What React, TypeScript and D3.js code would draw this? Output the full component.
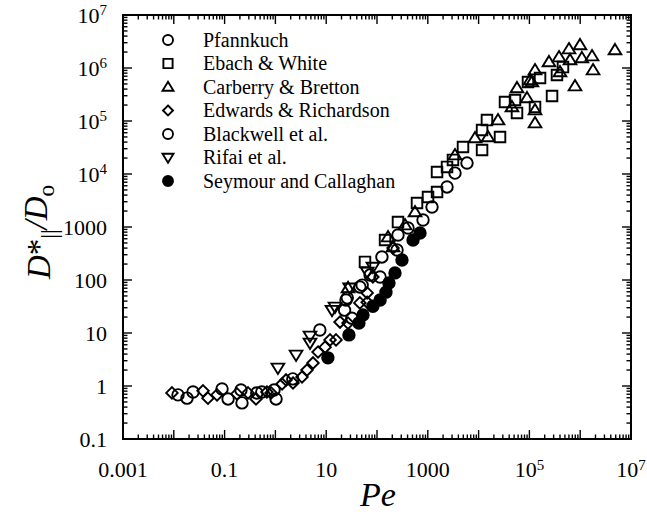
import * as d3 from "d3";
import { useEffect, useRef } from "react";

// axis ticks (labels every second decade on x)
const xMajor = [1e-3, 1e-2, 1e-1, 1, 10, 100, 1e3, 1e4, 1e5, 1e6, 1e7];
const xLabelled = [1e-3, 1e-1, 10, 1e3, 1e5, 1e7];
const xLabels = ["0.001", "0.1", "10", "1000", "10^5", "10^7"];
const yMajor = [0.1, 1, 10, 100, 1e3, 1e4, 1e5, 1e6, 1e7];
const yLabels = ["0.1", "1", "10", "100", "1000", "10^4", "10^5", "10^6", "10^7"];

// data
const pfannkuchPe = [0.0121, 0.0182, 0.0239, 0.089, 0.117, 0.21, 0.22, 0.43, 0.54, 0.94, 1.03, 2.2, 7.5, 23, 24.5, 46, 73, 26, 51];
const pfannkuchD = [0.68, 0.59, 0.77, 0.88, 0.57, 0.84, 0.48, 0.74, 0.77, 0.84, 0.57, 1.36, 11.4, 27, 42, 74, 124, 46, 80];

const ebachPe = [58, 144, 259, 613, 1520, 1520, 2390, 3130, 4930, 11700, 11700, 14600, 26400, 33100, 52100, 57000, 129000, 279000, 93800, 162000, 349000, 458000, 1010];
const ebachD = [219, 569, 1240, 2840, 4570, 10900, 13600, 18400, 32300, 28400, 67600, 104000, 49900, 228000, 249000, 142000, 184000, 296000, 545000, 648000, 738000, 1040000, 3680];

const carberryPe = [26.9, 165, 207, 560, 8500, 15300, 24100, 45400, 57000, 89700, 129000, 129000, 103000, 243000, 383000, 602000, 991000, 1080000, 1710000, 1790000, 790000, 4840000, 630000, 400000, 112000, 129000, 356, 3430];
const carberryD = [71, 647, 420, 1920, 47800, 49900, 104000, 184000, 420000, 272000, 916000, 91600, 594000, 1300000, 1610000, 2280000, 2720000, 1550000, 1680000, 916000, 457000, 2190000, 1420000, 841000, 545000, 161000, 1090, 22800];

const edwardsPe = [0.0092, 0.0376, 0.047, 0.071, 0.175, 0.289, 0.415, 0.82, 1.35, 1.62, 2.22, 3.34, 4.19, 5.5, 6.9, 9.5, 11.9, 15.6, 18.7, 26.9, 46, 64, 64, 83, 207, 0.68];
const edwardsD = [0.74, 0.81, 0.59, 0.68, 0.71, 0.74, 0.57, 0.74, 1.09, 1.3, 1.14, 1.48, 2.0, 2.72, 4.38, 5.4, 7.4, 7.4, 16.1, 15.4, 37, 57, 38, 114, 402, 0.77];

const blackwellPe = [115, 125, 259, 408, 805, 1210, 2390, 3430, 5910, 248, 32];
const blackwellD = [114, 272, 706, 957, 1355, 2380, 5690, 10400, 16100, 368, 19];

const rifaiPe = [1.12, 2.55, 4.8, 4.8, 13, 14.9, 29, 64, 83];
const rifaiD = [2.19, 3.85, 8.8, 6.5, 27, 31, 71, 142, 176];

const seymourPe = [10.8, 28, 44, 53, 83, 115, 150, 172, 226, 310, 512, 702];
const seymourD = [3.4, 9.2, 15.4, 21.9, 32, 42, 59, 88, 136, 238, 569, 771];

type Shape = "circle" | "square" | "triangle" | "diamond" | "triangleDown" | "dot";

const series: { name: string; shape: Shape; pe: number[]; d: number[] }[] = [
    { name: "Pfannkuch", shape: "circle", pe: pfannkuchPe, d: pfannkuchD },
    { name: "Ebach & White", shape: "square", pe: ebachPe, d: ebachD },
    { name: "Carberry & Bretton", shape: "triangle", pe: carberryPe, d: carberryD },
    { name: "Edwards & Richardson", shape: "diamond", pe: edwardsPe, d: edwardsD },
    { name: "Blackwell et al.", shape: "circle", pe: blackwellPe, d: blackwellD },
    { name: "Rifai et al.", shape: "triangleDown", pe: rifaiPe, d: rifaiD },
    { name: "Seymour and Callaghan", shape: "dot", pe: seymourPe, d: seymourD },
];

const FONT = "Liberation Serif";

const markerPath = (shape: Shape, s: number): string => {
    const p = d3.path();
    const h = s / 2;
    if (shape === "circle" || shape === "dot") {
        p.arc(0, 0, h, 0, 2 * Math.PI);
    } else if (shape === "square") {
        p.rect(-h * 0.92, -h * 0.92, s * 0.92, s * 0.92);
    } else if (shape === "triangle") {
        p.moveTo(0, -h * 1.05);
        p.lineTo(h * 1.1, h * 0.75);
        p.lineTo(-h * 1.1, h * 0.75);
        p.closePath();
    } else if (shape === "triangleDown") {
        p.moveTo(0, h * 1.05);
        p.lineTo(h * 1.1, -h * 0.75);
        p.lineTo(-h * 1.1, -h * 0.75);
        p.closePath();
    } else {
        p.moveTo(0, -h);
        p.lineTo(h, 0);
        p.lineTo(0, h);
        p.lineTo(-h, 0);
        p.closePath();
    }
    return p.toString();
};

// puts "10^5" style labels into a text element
const writeLabel = (t: d3.Selection<SVGTextElement, unknown, null, undefined>, label: string) => {
    const parts = label.split("^");
    t.append("tspan").text(parts[0]);
    if (parts[1]) {
        t.append("tspan").attr("dy", "-0.5em").attr("font-size", "0.68em").text(parts[1]);
    }
};

const App = () => {
    const ref = useRef<SVGSVGElement>(null);

    useEffect(() => {
        const width = 647;
        const height = 516;
        const left = 123, right = 631, top = 15, bottom = 439;

        const svg = d3.select(ref.current);
        svg.selectAll("*").remove();

        const x = d3.scaleLog().domain([1e-3, 1e7]).range([left, right]);
        const y = d3.scaleLog().domain([0.1, 1e7]).range([bottom, top]);

        const minors = (majors: number[]) =>
            majors.slice(0, -1).flatMap((m) => d3.range(2, 10).map((k) => k * m));

        const g = svg.append("g").style("font-family", FONT);

        // ticks, inward on all four sides
        const tickG = g.append("g").attr("stroke", "black").attr("stroke-width", 1.4);
        const drawX = (vals: number[], len: number) => {
            vals.forEach((v) => {
                tickG.append("line").attr("x1", x(v)).attr("x2", x(v)).attr("y1", bottom).attr("y2", bottom - len);
                tickG.append("line").attr("x1", x(v)).attr("x2", x(v)).attr("y1", top).attr("y2", top + len);
            });
        };
        const drawY = (vals: number[], len: number) => {
            vals.forEach((v) => {
                tickG.append("line").attr("y1", y(v)).attr("y2", y(v)).attr("x1", left).attr("x2", left + len);
                tickG.append("line").attr("y1", y(v)).attr("y2", y(v)).attr("x1", right).attr("x2", right - len);
            });
        };
        drawX(xMajor, 9);
        drawX(minors(xMajor), 4.5);
        drawY(yMajor, 9);
        drawY(minors(yMajor), 4.5);

        g.append("rect")
            .attr("x", left).attr("y", top)
            .attr("width", right - left).attr("height", bottom - top)
            .attr("fill", "none").attr("stroke", "black").attr("stroke-width", 2);

        // tick labels
        xLabelled.forEach((v, i) => {
            const t = g.append("text")
                .attr("x", x(v)).attr("y", bottom + 38)
                .attr("text-anchor", "middle")
                .attr("font-size", 22);
            writeLabel(t, xLabels[i]);
        });
        yMajor.forEach((v, i) => {
            const t = g.append("text")
                .attr("x", 107).attr("y", y(v) + 7.5)
                .attr("text-anchor", "end")
                .attr("font-size", 22);
            writeLabel(t, yLabels[i]);
        });

        // axis titles
        g.append("text")
            .attr("x", 378).attr("y", 506)
            .attr("text-anchor", "middle")
            .attr("font-size", 34).attr("font-style", "italic")
            .text("Pe");

        const yt = g.append("text")
            .attr("transform", "translate(50," + 232 + ") rotate(-90)")
            .attr("text-anchor", "middle")
            .attr("font-size", 33);
        yt.append("tspan").attr("font-style", "italic").text("D");
        yt.append("tspan").text("*");
        yt.append("tspan").attr("dy", "0.3em").attr("font-size", "0.7em").text("||");
        yt.append("tspan").attr("dy", "-0.3em").attr("font-style", "italic").text("/D");
        yt.append("tspan").attr("dy", "0.3em").attr("font-size", "0.7em").text("o");

        // points
        series.forEach((s) => {
            g.append("g")
                .selectAll("path")
                .data(s.pe.map((pe, i) => [pe, s.d[i]]))
                .enter()
                .append("path")
                .attr("d", markerPath(s.shape, 11.5))
                .attr("transform", (d) => "translate(" + x(d[0]) + "," + y(d[1]) + ")")
                .attr("fill", s.shape === "dot" ? "black" : "none")
                .attr("stroke", "black")
                .attr("stroke-width", 1.9);
        });

        // legend
        series.forEach((s, i) => {
            const ly = 40 + i * 23.5;
            g.append("path")
                .attr("d", markerPath(s.shape, 10))
                .attr("transform", "translate(168," + ly + ")")
                .attr("fill", s.shape === "dot" ? "black" : "none")
                .attr("stroke", "black")
                .attr("stroke-width", 1.9);
            g.append("text")
                .attr("x", 203).attr("y", ly + 6.5)
                .attr("font-size", 20)
                .text(s.name);
        });

        svg.attr("width", width).attr("height", height);
    }, []);

    return (
        <svg ref={ref} width={647} height={516} style={{ position: "absolute", left: 0, top: 0, background: "white" }} />
    );
};

export default App;
